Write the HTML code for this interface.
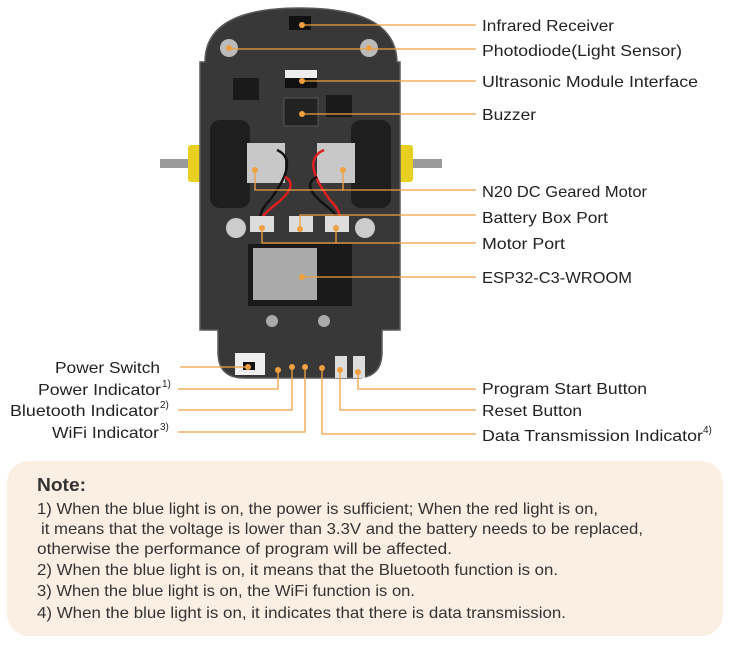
<!DOCTYPE html>
<html><head><meta charset="utf-8"><style>
html,body{margin:0;padding:0;background:#fff;width:731px;height:651px;overflow:hidden}
svg{display:block}
text{font-family:"Liberation Sans",sans-serif}
</style></head><body>
<svg width="731" height="651" viewBox="0 0 731 651">
<rect x="160" y="159" width="282" height="9" fill="#9a9a9a"/>
<rect x="188" y="145" width="22" height="37" rx="3" fill="#e8d020"/>
<rect x="391" y="145" width="22" height="37" rx="3" fill="#e8d020"/>
<path d="M205,62 Q205,8 300,8 Q396,8 397,62 L400,62 L400,330 L382,330 L382,352 Q382,378 356,378 L244,378 Q218,378 218,352 L218,330 L200,330 L200,62 Z" fill="#383838" stroke="#5a5a5a" stroke-width="1.5"/>
<rect x="210" y="120" width="40" height="88" rx="10" fill="#1e1e1e"/>
<rect x="351" y="120" width="40" height="88" rx="10" fill="#1e1e1e"/>
<rect x="247" y="143" width="38" height="40" fill="#c8c8c8"/>
<rect x="317" y="143" width="38" height="40" fill="#c8c8c8"/>
<path d="M277,150 Q300,160 270,200 Q255,215 262,228" stroke="#111" stroke-width="2.5" fill="none"/>
<path d="M285,177 Q300,185 275,205 Q255,220 262,228" stroke="#e02020" stroke-width="2.5" fill="none"/>
<path d="M324,150 Q300,160 330,200 Q345,215 338,228" stroke="#e02020" stroke-width="2.5" fill="none"/>
<path d="M317,177 Q300,185 325,205 Q345,220 338,228" stroke="#111" stroke-width="2.5" fill="none"/>
<rect x="285" y="70" width="32" height="18" fill="#eee"/>
<rect x="285" y="78" width="32" height="10" fill="#111"/>
<rect x="284" y="98" width="34" height="28" fill="#222" stroke="#555"/>
<rect x="233" y="78" width="26" height="22" fill="#1a1a1a"/>
<rect x="326" y="95" width="26" height="22" fill="#1a1a1a"/>
<circle cx="229" cy="48" r="9" fill="#bbb"/><circle cx="369" cy="48" r="9" fill="#bbb"/>
<rect x="289" y="16" width="22" height="14" fill="#111"/>
<rect x="250" y="216" width="24" height="16" fill="#ddd"/><rect x="289" y="216" width="24" height="16" fill="#ddd"/><rect x="325" y="216" width="24" height="16" fill="#ddd"/>
<circle cx="236" cy="228" r="10" fill="#ccc"/><circle cx="365" cy="228" r="10" fill="#ccc"/>
<rect x="248" y="244" width="104" height="62" fill="#1a1a1a"/>
<rect x="253" y="248" width="64" height="52" fill="#aaa"/>
<circle cx="272" cy="321" r="6" fill="#aaa"/><circle cx="324" cy="321" r="6" fill="#aaa"/>
<rect x="235" y="353" width="30" height="22" fill="#eee"/><rect x="243" y="362" width="12" height="8" fill="#111"/>
<rect x="335" y="356" width="12" height="22" fill="#ddd"/><rect x="353" y="356" width="12" height="22" fill="#ddd"/>
<g stroke="#f0a040" stroke-width="1.3" fill="none">
<path d="M302,25 H476"/><path d="M229,49 H476"/><path d="M302,81 H476"/><path d="M302,114 H476"/>
<path d="M255,170 V190 H476 M343,170 V190"/><path d="M300,229 V215 H476"/><path d="M262,228 V243 H476 M336,228 V243"/>
<path d="M302,277 H476"/><path d="M358,372 V389 H476"/><path d="M340,370 V410 H476"/><path d="M322,368 V434 H476"/>
<path d="M248,367 H180"/><path d="M278,370 V389 H178"/><path d="M292,367 V410 H178"/><path d="M305,367 V432 H178"/>
</g>
<g fill="#f0a040">
<circle cx="302" cy="25" r="3"/><circle cx="229" cy="48" r="3"/><circle cx="369" cy="48" r="3"/><circle cx="302" cy="81" r="3"/><circle cx="302" cy="114" r="3"/>
<circle cx="255" cy="170" r="3"/><circle cx="343" cy="170" r="3"/><circle cx="300" cy="229" r="3"/><circle cx="262" cy="228" r="3"/><circle cx="336" cy="228" r="3"/>
<circle cx="302" cy="277" r="3"/><circle cx="358" cy="372" r="3"/><circle cx="340" cy="370" r="3"/><circle cx="322" cy="368" r="3"/>
<circle cx="248" cy="367" r="3"/><circle cx="278" cy="370" r="3"/><circle cx="292" cy="367" r="3"/><circle cx="305" cy="367" r="3"/>
</g>
<g font-size="16" fill="#222">
<text x="482" y="31" textLength="132" lengthAdjust="spacingAndGlyphs">Infrared Receiver</text>
<text x="482" y="56" textLength="200" lengthAdjust="spacingAndGlyphs">Photodiode(Light Sensor)</text>
<text x="482" y="87" textLength="216" lengthAdjust="spacingAndGlyphs">Ultrasonic Module Interface</text>
<text x="482" y="120" textLength="54" lengthAdjust="spacingAndGlyphs">Buzzer</text>
<text x="482" y="197" textLength="165" lengthAdjust="spacingAndGlyphs">N20 DC Geared Motor</text>
<text x="482" y="223" textLength="126" lengthAdjust="spacingAndGlyphs">Battery Box Port</text>
<text x="482" y="249" textLength="83" lengthAdjust="spacingAndGlyphs">Motor Port</text>
<text x="482" y="283" textLength="150" lengthAdjust="spacingAndGlyphs">ESP32-C3-WROOM</text>
<text x="482" y="394" textLength="165" lengthAdjust="spacingAndGlyphs">Program Start Button</text>
<text x="482" y="416" textLength="100" lengthAdjust="spacingAndGlyphs">Reset Button</text>
<text x="482" y="441" textLength="221" lengthAdjust="spacingAndGlyphs">Data Transmission Indicator</text>
<text x="703" y="433" font-size="10">4)</text>
<text x="55" y="373" textLength="105" lengthAdjust="spacingAndGlyphs">Power Switch</text>
<text x="38" y="395" textLength="123" lengthAdjust="spacingAndGlyphs">Power Indicator</text>
<text x="162" y="387" font-size="10">1)</text>
<text x="10" y="416" textLength="149" lengthAdjust="spacingAndGlyphs">Bluetooth Indicator</text>
<text x="160" y="408" font-size="10">2)</text>
<text x="52" y="438" textLength="107" lengthAdjust="spacingAndGlyphs">WiFi Indicator</text>
<text x="160" y="430" font-size="10">3)</text>
</g>
<rect x="7" y="461" width="716" height="175" rx="22" fill="#fbeee3"/>
<g fill="#333" font-size="16">
<text x="37" y="491" font-size="18" font-weight="bold" textLength="49" lengthAdjust="spacingAndGlyphs">Note:</text>
<text x="37" y="514" textLength="561" lengthAdjust="spacingAndGlyphs">1) When the blue light is on, the power is sufficient; When the red light is on,</text>
<text x="41" y="534" textLength="602" lengthAdjust="spacingAndGlyphs">it means that the voltage is lower than 3.3V and the battery needs to be replaced,</text>
<text x="37" y="554" textLength="415" lengthAdjust="spacingAndGlyphs">otherwise the performance of program will be affected.</text>
<text x="37" y="575" textLength="521" lengthAdjust="spacingAndGlyphs">2) When the blue light is on, it means that the Bluetooth function is on.</text>
<text x="37" y="596" textLength="378" lengthAdjust="spacingAndGlyphs">3) When the blue light is on, the WiFi function is on.</text>
<text x="37" y="618" textLength="529" lengthAdjust="spacingAndGlyphs">4) When the blue light is on, it indicates that there is data transmission.</text>
</g>
</svg>
</body></html>
